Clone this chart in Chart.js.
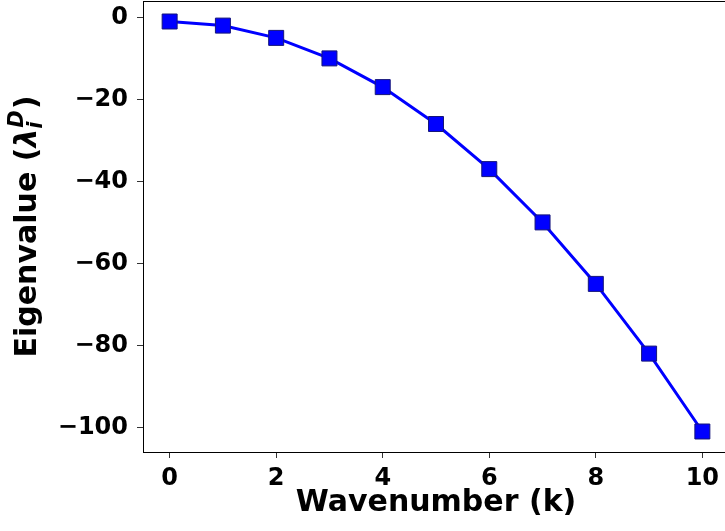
<!DOCTYPE html>
<html>
<head>
<meta charset="utf-8">
<script src="https://cdn.jsdelivr.net/npm/chart.js@4"></script>
<style>
  html, body { margin: 0; padding: 0; background: #fff; overflow: hidden; }
  #wrap { position: relative; width: 740px; height: 531px; }
</style>
</head>
<body>
<div id="wrap"><canvas id="eigChart"></canvas></div>
<script>
// values
const wavenumbers = [0, 1, 2, 3, 4, 5, 6, 7, 8, 9, 10]
const eigenvalues = [-1, -2, -5, -10, -17, -26, -37, -50, -65, -82, -101]
const xTicks = [0, 2, 4, 6, 8, 10]
const yTicks = [-100, -80, -60, -40, -20, 0]

const FONT = "'DejaVu Sans', sans-serif"

// full box around the plot + the y title with sub/superscript
const framePlugin = {
  id: "frame",
  afterDraw(chart) {
    const { ctx, chartArea } = chart
    ctx.save()
    ctx.strokeStyle = "#000"
    ctx.lineWidth = 1
    ctx.strokeRect(chartArea.left + 0.5, chartArea.top + 0.5,
      chartArea.right - chartArea.left, chartArea.bottom - chartArea.top)

    // y axis title: Eigenvalue (λ_i^D)
    const cy = (chartArea.top + chartArea.bottom) / 2
    ctx.translate(36, cy)
    ctx.rotate(-Math.PI / 2)
    ctx.fillStyle = "#000"
    ctx.textBaseline = "alphabetic"
    const big = "bold 30px " + FONT
    const lam = "italic bold 30px " + FONT
    const small = "italic bold 21px " + FONT
    ctx.font = big
    const w1 = ctx.measureText("Eigenvalue (").width
    const w3 = ctx.measureText(")").width
    ctx.font = lam
    const w2 = ctx.measureText("λ").width
    ctx.font = small
    const wSup = ctx.measureText("D").width
    const wSub = ctx.measureText("i").width
    const wS = Math.max(wSup, wSub) + 2
    const total = w1 + w2 + wS + w3
    let x = -total / 2
    ctx.font = big
    ctx.fillText("Eigenvalue (", x, 0)
    x += w1
    ctx.font = lam
    ctx.fillText("λ", x, 0)
    x += w2
    ctx.font = small
    ctx.fillText("D", x + 1, -13)
    ctx.fillText("i", x, 6)
    x += wS
    ctx.font = big
    ctx.fillText(")", x, 0)
    ctx.restore()
  }
}

new Chart(document.getElementById("eigChart"), {
  type: "line",
  data: {
    datasets: [{
      data: wavenumbers.map((k, i) => ({ x: k, y: eigenvalues[i] })),
      borderColor: "#0000ff",
      borderWidth: 3,
      backgroundColor: "#0000ff",
      pointStyle: "rect",
      pointRadius: 10.6,
      pointHoverRadius: 10.6,
      pointBorderColor: "#15157a",
      pointBorderWidth: 1,
      tension: 0
    }]
  },
  options: {
    responsive: true,
    maintainAspectRatio: false,
    animation: false,
    layout: { autoPadding: false, padding: { top: 1, right: 11, left: 0, bottom: 0 } },
    plugins: { legend: { display: false }, tooltip: { enabled: false } },
    scales: {
      x: {
        type: "linear",
        min: -0.5,
        max: 10.5,
        afterBuildTicks: (scale) => { scale.ticks = xTicks.map(v => ({ value: v })) },
        afterFit: (scale) => {
          scale.height = 79
          scale.paddingLeft = 0
          scale.paddingRight = 0
        },
        border: { display: true, color: "#000", width: 1 },
        grid: { drawOnChartArea: false, drawTicks: true, tickLength: 6, color: "#333" },
        ticks: { color: "#000", font: { family: FONT, size: 24, weight: "bold" }, padding: 6, maxRotation: 0 },
        title: {
          display: true,
          text: "Wavenumber (k)",
          color: "#000",
          font: { family: FONT, size: 30, weight: "bold" },
          padding: { top: 0, bottom: 10 }
        }
      },
      y: {
        type: "linear",
        min: -106,
        max: 4,
        afterBuildTicks: (scale) => { scale.ticks = yTicks.map(v => ({ value: v })) },
        afterFit: (scale) => {
          scale.width = 143
          scale.paddingTop = 0
          scale.paddingBottom = 0
        },
        border: { display: true, color: "#000", width: 1 },
        grid: { drawOnChartArea: false, drawTicks: true, tickLength: 6, color: "#333" },
        ticks: {
          color: "#000",
          font: { family: FONT, size: 24, weight: "bold" },
          padding: 9,
          callback: (v) => String(v).replace("-", "\u2212")
        }
      }
    }
  },
  plugins: [framePlugin]
})
</script>
</body>
</html>
